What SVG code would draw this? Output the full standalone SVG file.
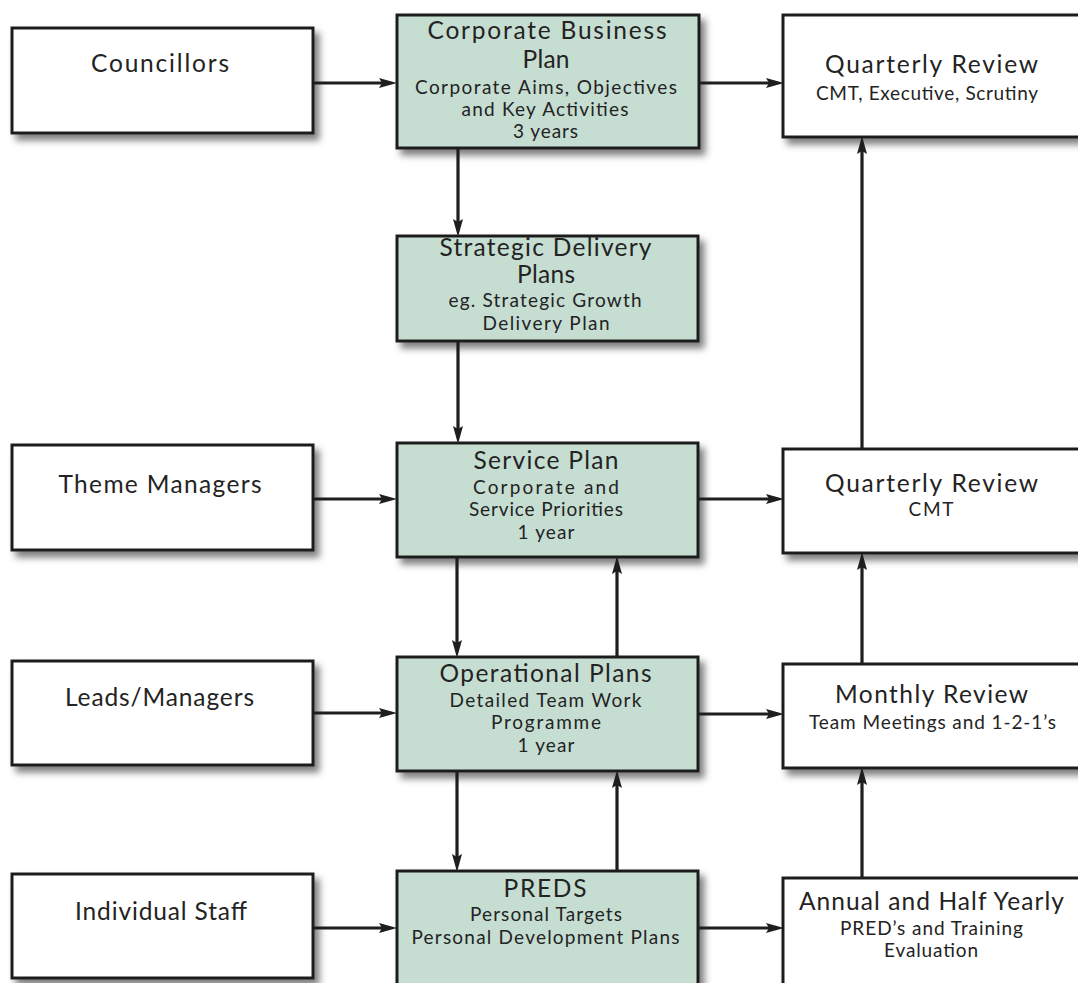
<svg xmlns="http://www.w3.org/2000/svg" width="1078" height="983" viewBox="0 0 1078 983">
<defs>
<filter id="sh" x="-10%" y="-10%" width="130%" height="140%">
<feDropShadow dx="5" dy="6" stdDeviation="3.5" flood-color="#000" flood-opacity="0.5"/>
</filter>
<marker id="ah" markerUnits="userSpaceOnUse" markerWidth="20" markerHeight="12" viewBox="0 -6 20 12" refX="9" refY="0" orient="auto">
<path d="M0,-5 L18,0 L0,5 L3,0 Z" fill="#1e1e1e"/>
</marker>
</defs>
<style>
.box{stroke:#1e1e1e;stroke-width:3;filter:url(#sh)}
.w{fill:#ffffff}
.g{fill:#c6ddd2}
text{font-family:Lato,"Open Sans","Liberation Sans",sans-serif;fill:#232323;text-anchor:middle}
.t{font-size:24.5px}
.s{font-size:19px}
.c line{stroke:#1e1e1e;stroke-width:3.2;marker-end:url(#ah)}
</style>
<rect width="1078" height="983" fill="#ffffff"/>

<g id="councillors">
<rect class="box w" x="12" y="28" width="301" height="105"/>
<text class="t" x="160" y="72" textLength="138" lengthAdjust="spacing">Councillors</text>
</g>
<g id="corporate-business-plan">
<rect class="box g" x="397" y="15" width="302" height="133"/>
<text class="t" x="547" y="39" textLength="239" lengthAdjust="spacing">Corporate Business</text>
<text class="t" x="546" y="68" textLength="47" lengthAdjust="spacing">Plan</text>
<text class="s" x="546" y="94" textLength="262" lengthAdjust="spacing">Corporate Aims, Objectives</text>
<text class="s" x="545" y="116" textLength="167" lengthAdjust="spacing">and Key Activities</text>
<text class="s" x="545.5" y="138" textLength="65" lengthAdjust="spacing">3 years</text>
</g>
<g id="quarterly-review-1">
<rect class="box w" x="783" y="15" width="310" height="122"/>
<text class="t" x="931.5" y="73" textLength="213" lengthAdjust="spacing">Quarterly Review</text>
<text class="s" x="927" y="100" textLength="222" lengthAdjust="spacing">CMT, Executive, Scrutiny</text>
</g>
<g id="strategic-delivery-plans">
<rect class="box g" x="397" y="236" width="301" height="105"/>
<text class="t" x="545.5" y="256" textLength="212" lengthAdjust="spacing">Strategic Delivery</text>
<text class="t" x="546" y="283" textLength="58" lengthAdjust="spacing">Plans</text>
<text class="s" x="545" y="307" textLength="193" lengthAdjust="spacing">eg. Strategic Growth</text>
<text class="s" x="546" y="330" textLength="127" lengthAdjust="spacing">Delivery Plan</text>
</g>
<g id="theme-managers">
<rect class="box w" x="12" y="445" width="301" height="105"/>
<text class="t" x="160" y="493" textLength="203" lengthAdjust="spacing">Theme Managers</text>
</g>
<g id="service-plan">
<rect class="box g" x="397" y="443" width="301" height="114"/>
<text class="t" x="546" y="469" textLength="145" lengthAdjust="spacing">Service Plan</text>
<text class="s" x="546" y="494" textLength="146" lengthAdjust="spacing">Corporate and</text>
<text class="s" x="546" y="516" textLength="154" lengthAdjust="spacing">Service Priorities</text>
<text class="s" x="546" y="539" textLength="57" lengthAdjust="spacing">1 year</text>
</g>
<g id="quarterly-review-2">
<rect class="box w" x="783" y="449" width="310" height="104"/>
<text class="t" x="931.5" y="492" textLength="213" lengthAdjust="spacing">Quarterly Review</text>
<text class="s" x="931" y="516" textLength="45" lengthAdjust="spacing">CMT</text>
</g>
<g id="leads-managers">
<rect class="box w" x="12" y="661" width="301" height="104"/>
<text class="t" x="159.5" y="706" textLength="189" lengthAdjust="spacing">Leads/Managers</text>
</g>
<g id="operational-plans">
<rect class="box g" x="397" y="657" width="301" height="114"/>
<text class="t" x="545.5" y="682" textLength="212" lengthAdjust="spacing">Operational Plans</text>
<text class="s" x="545.5" y="707" textLength="192" lengthAdjust="spacing">Detailed Team Work</text>
<text class="s" x="546" y="729" textLength="110" lengthAdjust="spacing">Programme</text>
<text class="s" x="546" y="752" textLength="57" lengthAdjust="spacing">1 year</text>
</g>
<g id="monthly-review">
<rect class="box w" x="783" y="664" width="310" height="104"/>
<text class="t" x="931.5" y="703" textLength="193" lengthAdjust="spacing">Monthly Review</text>
<text class="s" x="932.5" y="729" textLength="247" lengthAdjust="spacing">Team Meetings and 1-2-1’s</text>
</g>
<g id="individual-staff">
<rect class="box w" x="12" y="874" width="301" height="104"/>
<text class="t" x="161" y="920" textLength="172" lengthAdjust="spacing">Individual Staff</text>
</g>
<g id="preds">
<rect class="box g" x="397" y="871" width="301" height="140"/>
<text class="t" x="545" y="897" textLength="83" lengthAdjust="spacing">PREDS</text>
<text class="s" x="546" y="921" textLength="152" lengthAdjust="spacing">Personal Targets</text>
<text class="s" x="545.5" y="944" textLength="268" lengthAdjust="spacing">Personal Development Plans</text>
</g>
<g id="annual-half-yearly">
<rect class="box w" x="783" y="878" width="310" height="130"/>
<text class="t" x="931.5" y="910" textLength="265" lengthAdjust="spacing">Annual and Half Yearly</text>
<text class="s" x="931.5" y="935" textLength="183" lengthAdjust="spacing">PRED’s and Training</text>
<text class="s" x="931" y="957" textLength="94" lengthAdjust="spacing">Evaluation</text>
</g>

<g id="connectors" class="c">
<line x1="313" y1="83" x2="388" y2="83"/>
<line x1="699" y1="83" x2="775" y2="83"/>
<line x1="458" y1="148" x2="458" y2="228"/>
<line x1="458" y1="341" x2="458" y2="435"/>
<line x1="313" y1="499" x2="388" y2="499"/>
<line x1="698" y1="499" x2="775" y2="499"/>
<line x1="862" y1="449" x2="862" y2="145"/>
<line x1="457" y1="557" x2="457" y2="649"/>
<line x1="617" y1="657" x2="617" y2="565"/>
<line x1="313" y1="713" x2="388" y2="713"/>
<line x1="698" y1="714" x2="775" y2="714"/>
<line x1="862" y1="664" x2="862" y2="561"/>
<line x1="457" y1="771" x2="457" y2="863"/>
<line x1="617" y1="871" x2="617" y2="779"/>
<line x1="313" y1="928" x2="388" y2="928"/>
<line x1="698" y1="928" x2="775" y2="928"/>
<line x1="862" y1="878" x2="862" y2="776"/>
</g>
</svg>
